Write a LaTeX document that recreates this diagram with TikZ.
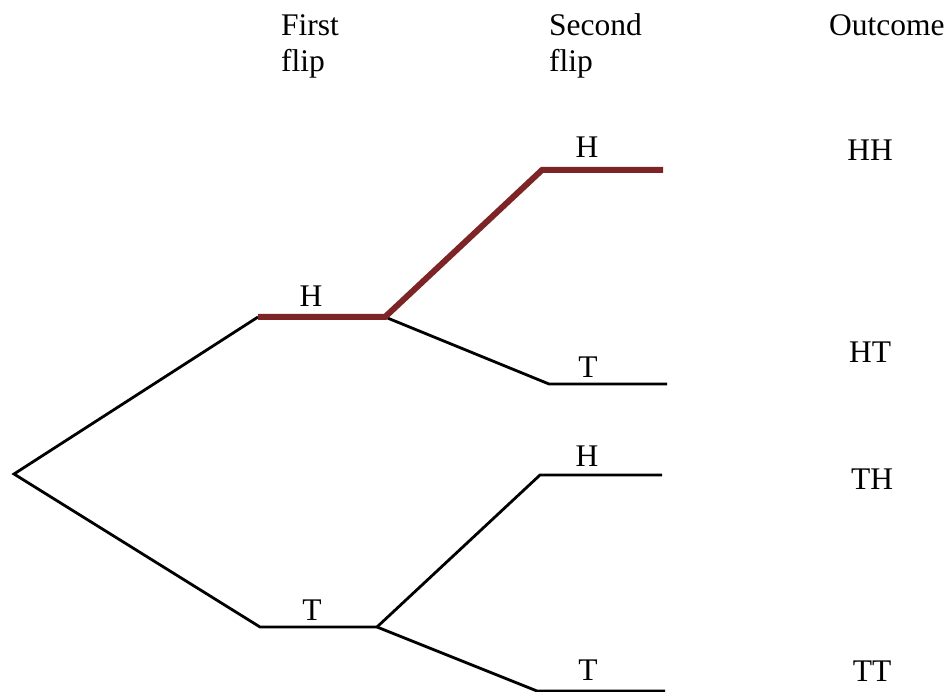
\documentclass[tikz,border=0pt]{standalone}
\usepackage{fontspec}
\setmainfont{Liberation Serif}
\definecolor{pathred}{RGB}{125,36,38}
\begin{document}
\begin{tikzpicture}[x=1pt,y=-1pt,
  branch/.style={draw=black,line width=2.8pt,line join=miter},
  chosen/.style={draw=pathred,line width=6pt,line join=miter},
  lbl/.style={inner sep=0pt,anchor=base,font=\fontsize{31.5}{37}\selectfont},
  hdr/.style={inner sep=0pt,anchor=base west,font=\fontsize{31.5}{37}\selectfont}]
\useasboundingbox (0,0) rectangle (948,692);
% tree points
\coordinate (root) at (14,474);
\coordinate (h1a) at (258,317);
\coordinate (h1b) at (385,317);
\coordinate (t1a) at (260,627);
\coordinate (t1b) at (377,627);
\coordinate (hha) at (542,170);
\coordinate (hhb) at (663,170);
\coordinate (hta) at (549,384);
\coordinate (htb) at (667,384);
\coordinate (tha) at (540,475);
\coordinate (thb) at (662,475);
\coordinate (tta) at (537,691);
\coordinate (ttb) at (665,691);
% branches
\draw[branch] (h1a) -- (root) -- (t1a) -- (t1b);
\draw[branch] (h1b) -- (hta) -- (htb);
\draw[branch] (t1b) -- (tha) -- (thb);
\draw[branch] (t1b) -- (tta) -- (ttb);
\draw[chosen] (h1a) -- (h1b) -- (hha) -- (hhb);
% headers
\node[hdr] (first) at (281,36) {First};
\node[hdr] (firstb) at (281,72) {flip};
\node[hdr] (second) at (549,36) {Second};
\node[hdr] (secondb) at (549,72) {flip};
\node[hdr] (outc) at (829,36) {Outcome};
% branch labels
\node[lbl] (lh1) at (311,307) {H};
\node[lbl] (lt1) at (312,620) {T};
\node[lbl] (lhh) at (587,158) {H};
\node[lbl] (lht) at (588,378) {T};
\node[lbl] (lth) at (587,466) {H};
\node[lbl] (ltt) at (588,680) {T};
% outcomes
\node[lbl] (ohh) at (870,161) {HH};
\node[lbl] (oht) at (870,363) {HT};
\node[lbl] (oth) at (872,489) {TH};
\node[lbl] (ott) at (872,681) {TT};
\end{tikzpicture}
\end{document}
